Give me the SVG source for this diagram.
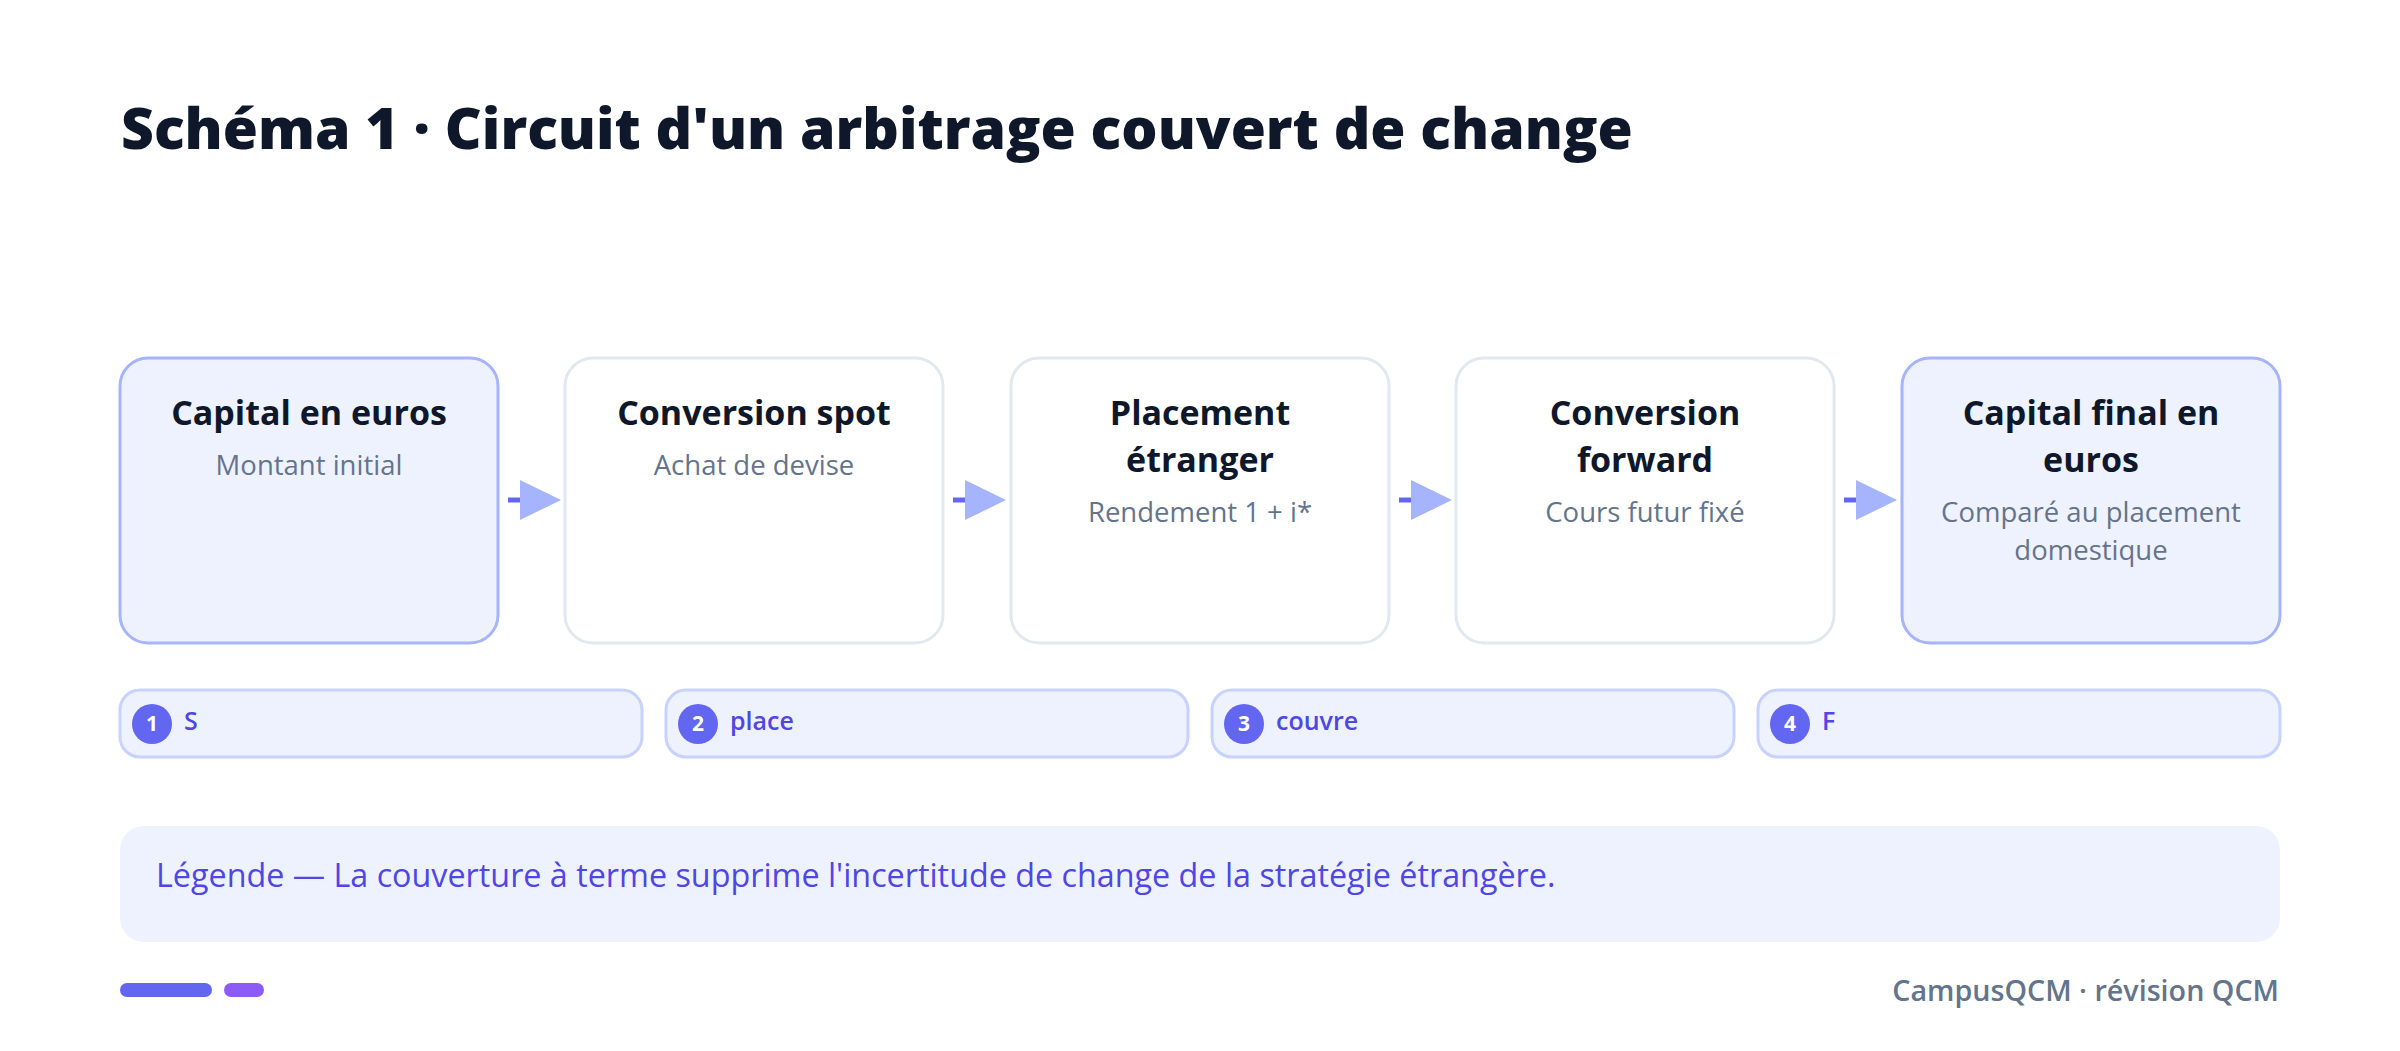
<svg xmlns="http://www.w3.org/2000/svg" width="2400" height="1051" viewBox="0 0 2400 1051">
<defs>
<style>
.title{font-family:"Open Sans","Noto Sans",sans-serif;font-weight:800;font-size:57px;fill:#0F172A}
.box-hi{fill:#EEF2FF;stroke:#A5B4FC;stroke-width:3}
.box{fill:#FFFFFF;stroke:#E2E8F0;stroke-width:3}
.nt{font-family:"Open Sans","Noto Sans",sans-serif;font-weight:700;font-size:34px;fill:#0F172A;text-anchor:middle}
.ns{font-family:"Open Sans","Noto Sans",sans-serif;font-weight:400;font-size:27.5px;fill:#64748B;text-anchor:middle}
.pill{fill:#EEF2FF;stroke:#C7D2FE;stroke-width:3}
.badge{fill:#6366F1}
.bn{font-family:"Open Sans","Noto Sans",sans-serif;font-weight:700;font-size:21px;fill:#FFFFFF;text-anchor:middle}
.pt{font-family:"Open Sans","Noto Sans",sans-serif;font-weight:600;font-size:25px;fill:#4F46E5}
.conn{stroke:#6366F1;stroke-width:5;fill:none}
.legend{fill:#EEF2FF}
.lt{font-family:"Open Sans","Noto Sans",sans-serif;font-weight:400;font-size:32.3px;fill:#4F46E5}
.ft{font-family:"Open Sans","Noto Sans",sans-serif;font-weight:600;font-size:28.7px;fill:#64748B;text-anchor:end}
</style>
<marker id="arr" viewBox="0 0 41 40" refX="0" refY="20" markerWidth="41" markerHeight="40" markerUnits="userSpaceOnUse" orient="auto">
<path d="M0,0 L41,20 L0,40 Z" fill="#A5B4FC"/>
</marker>
</defs>
<rect width="2400" height="1051" fill="#FFFFFF"/>
<text class="title" x="121" y="149">Schéma 1 · Circuit d'un arbitrage couvert de change</text>

<g id="connectors">
<line class="conn" x1="508" y1="500" x2="520" y2="500" marker-end="url(#arr)"/>
<line class="conn" x1="953" y1="500" x2="965" y2="500" marker-end="url(#arr)"/>
<line class="conn" x1="1399" y1="500" x2="1411" y2="500" marker-end="url(#arr)"/>
<line class="conn" x1="1844" y1="500" x2="1856" y2="500" marker-end="url(#arr)"/>
</g>

<g id="node1">
<rect class="box-hi" x="120" y="358" width="378" height="285" rx="28"/>
<text class="nt" x="309" y="425">Capital en euros</text>
<text class="ns" x="309" y="475">Montant initial</text>
</g>
<g id="node2">
<rect class="box" x="565" y="358" width="378" height="285" rx="28"/>
<text class="nt" x="754" y="425">Conversion spot</text>
<text class="ns" x="754" y="475">Achat de devise</text>
</g>
<g id="node3">
<rect class="box" x="1011" y="358" width="378" height="285" rx="28"/>
<text class="nt" x="1200" y="425">Placement</text>
<text class="nt" x="1200" y="472">étranger</text>
<text class="ns" x="1200" y="522">Rendement 1 + i*</text>
</g>
<g id="node4">
<rect class="box" x="1456" y="358" width="378" height="285" rx="28"/>
<text class="nt" x="1645" y="425">Conversion</text>
<text class="nt" x="1645" y="472">forward</text>
<text class="ns" x="1645" y="522">Cours futur fixé</text>
</g>
<g id="node5">
<rect class="box-hi" x="1902" y="358" width="378" height="285" rx="28"/>
<text class="nt" x="2091" y="425">Capital final en</text>
<text class="nt" x="2091" y="472">euros</text>
<text class="ns" x="2091" y="522">Comparé au placement</text>
<text class="ns" x="2091" y="560">domestique</text>
</g>

<g id="step1">
<rect class="pill" x="120" y="690" width="522" height="67" rx="20"/>
<circle class="badge" cx="152" cy="724" r="20"/>
<text class="bn" x="152" y="731">1</text>
<text class="pt" x="184" y="730">S</text>
</g>
<g id="step2">
<rect class="pill" x="666" y="690" width="522" height="67" rx="20"/>
<circle class="badge" cx="698" cy="724" r="20"/>
<text class="bn" x="698" y="731">2</text>
<text class="pt" x="730" y="730">place</text>
</g>
<g id="step3">
<rect class="pill" x="1212" y="690" width="522" height="67" rx="20"/>
<circle class="badge" cx="1244" cy="724" r="20"/>
<text class="bn" x="1244" y="731">3</text>
<text class="pt" x="1276" y="730">couvre</text>
</g>
<g id="step4">
<rect class="pill" x="1758" y="690" width="522" height="67" rx="20"/>
<circle class="badge" cx="1790" cy="724" r="20"/>
<text class="bn" x="1790" y="731">4</text>
<text class="pt" x="1822" y="730">F</text>
</g>

<g id="legend">
<rect class="legend" x="120" y="826" width="2160" height="116" rx="24"/>
<text class="lt" x="156" y="887">Légende — La couverture à terme supprime l'incertitude de change de la stratégie étrangère.</text>
</g>

<g id="footer">
<rect x="120" y="983" width="92" height="14" rx="7" fill="#6366F1"/>
<rect x="224" y="983" width="40" height="14" rx="7" fill="#8B5CF6"/>
<text class="ft" x="2279" y="1001">CampusQCM · révision QCM</text>
</g>
</svg>
